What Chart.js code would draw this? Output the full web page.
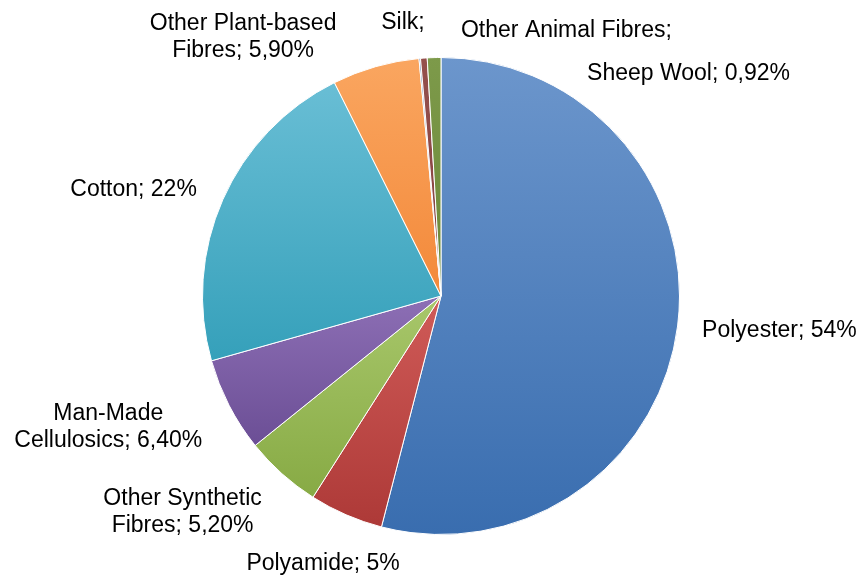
<!DOCTYPE html>
<html>
<head>
<meta charset="utf-8">
<script src="https://cdn.jsdelivr.net/npm/chart.js@4"></script>
<style>
  html, body { margin: 0; padding: 0; background: #ffffff; }
  #wrap { width: 862px; height: 578px; }
</style>
</head>
<body>
<div id="wrap"><canvas id="fibreChart" width="862" height="578"></canvas></div>
<script>
// fibre shares, clockwise from 12 o'clock
const fibres = ['Polyester', 'Polyamide', 'Other Synthetic\nFibres', 'Man-Made\nCellulosics', 'Cotton',
  'Other Plant-based\nFibres', 'Silk', 'Other Animal Fibres', 'Sheep Wool'];
const shares = [54, 5, 5.2, 6.4, 22, 5.9, 0.1, 0.45, 0.92];

// labels whose value got cut off in the original
const noValue = ['Silk', 'Other Animal Fibres'];

// light (top) / dark (bottom) gradient stops
const lightColors = ['#6c96cc', '#d05b58', '#a8c76b', '#8d6fb5', '#69bed5', '#faa660', '#4a6fa8', '#95504d', '#7d9a4a'];
const darkColors = ['#396daf', '#ad3937', '#87aa44', '#6b4e95', '#35a0ba', '#f3893a', '#34598f', '#84403e', '#6b8739'];

// where each label sits relative to a point just outside its slice
const labelNudge = [[82, 2], [-15, 31], [-86, 24], [-103, 13], [-71, -2], [-127, -10], [-15, -16], [144, -8], [255, 36]];

const fontSpec = '23px "Liberation Sans", Arial, sans-serif';
const lineGap = 27;

function fmtShare(v) {
  if (Number.isInteger(v)) return v + '%';
  return v.toFixed(2).replace('.', ',') + '%';
}

function sliceGradient(context) {
  const chart = context.chart;
  const area = chart.chartArea;
  if (!area) return lightColors[context.dataIndex];
  const i = context.dataIndex;
  const cx = (area.left + area.right) / 2;
  const cy = (area.top + area.bottom) / 2;
  const r = Math.min(area.right - area.left, area.bottom - area.top) / 2;
  const total = shares.reduce((s, v) => s + v, 0);
  const before = shares.slice(0, i).reduce((s, v) => s + v, 0);
  const a0 = before / total * Math.PI * 2;
  const a1 = (before + shares[i]) / total * Math.PI * 2;
  const ys = [cy, cy - r * Math.cos(a0), cy - r * Math.cos(a1)];
  if (a0 <= 0.0001) ys.push(cy - r);
  if (a0 <= Math.PI && a1 >= Math.PI) ys.push(cy + r);
  const y0 = Math.min(...ys);
  const y1 = Math.max(...ys);
  const g = chart.ctx.createLinearGradient(0, y0, 0, y1 + 1);
  g.addColorStop(0, lightColors[i]);
  g.addColorStop(1, darkColors[i]);
  return g;
}

const labelPlugin = {
  id: 'sliceLabels',
  afterDatasetsDraw(chart) {
    const ctx = chart.ctx;
    const arcs = chart.getDatasetMeta(0).data;
    ctx.save();
    ctx.font = fontSpec;
    ctx.fillStyle = '#000000';
    ctx.textAlign = 'center';
    ctx.textBaseline = 'middle';
    arcs.forEach((arc, i) => {
      const p = arc.getProps(['x', 'y', 'startAngle', 'endAngle', 'outerRadius'], true);
      const mid = (p.startAngle + p.endAngle) / 2;
      const ax = p.x + (p.outerRadius + 20) * Math.cos(mid) + labelNudge[i][0];
      const ay = p.y + (p.outerRadius + 20) * Math.sin(mid) + labelNudge[i][1];
      const lines = fibres[i].split('\n');
      const last = lines.length - 1;
      lines[last] += noValue.includes(fibres[i]) ? ';' : '; ' + fmtShare(shares[i]);
      const top = ay - (lines.length - 1) * lineGap / 2;
      lines.forEach((ln, k) => ctx.fillText(ln, ax, top + k * lineGap));
    });
    ctx.restore();
  }
};

new Chart(document.getElementById('fibreChart'), {
  type: 'pie',
  data: {
    labels: fibres.map((f) => f.replace('\n', ' ')),
    datasets: [{
      data: shares,
      backgroundColor: sliceGradient,
      borderColor: '#ffffff',
      borderWidth: 1
    }]
  },
  options: {
    responsive: false,
    animation: false,
    layout: { padding: { top: 57, bottom: 43, left: 202, right: 182 } },
    plugins: {
      legend: { display: false },
      tooltip: { enabled: false }
    }
  },
  plugins: [labelPlugin]
});
</script>
</body>
</html>
